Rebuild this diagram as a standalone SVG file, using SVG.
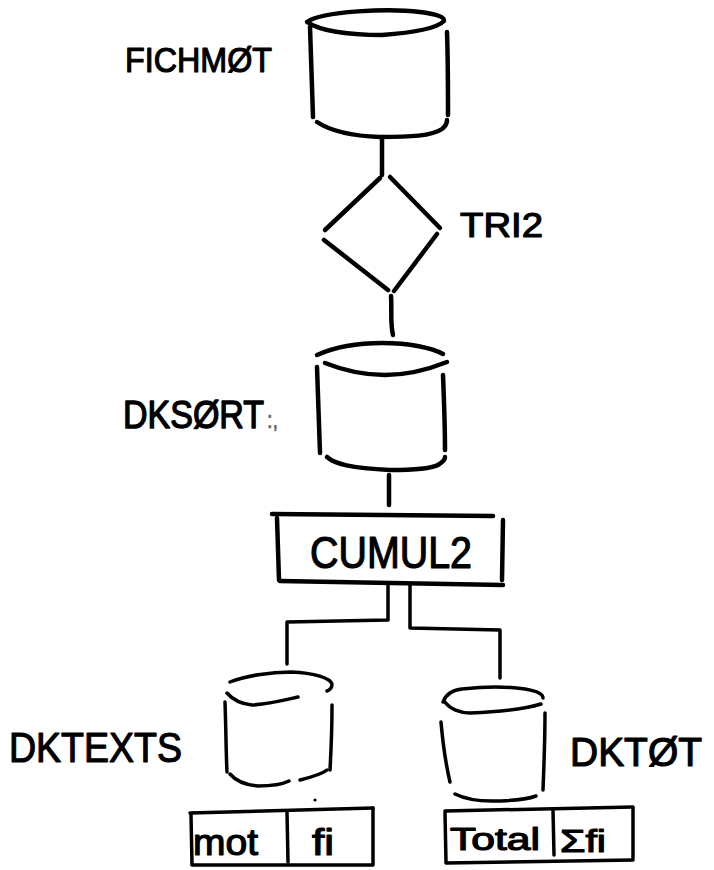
<svg xmlns="http://www.w3.org/2000/svg" width="714" height="870" viewBox="0 0 714 870">
  <style>
    .ink { fill: none; stroke: #000; stroke-width: 4.5; stroke-linecap: round; stroke-linejoin: round; }
    .thin { stroke-width: 3.5; }
    .lbl { font-family: "Liberation Sans", "DejaVu Sans", sans-serif; fill: #000; stroke: #000; stroke-width: 1.2; stroke-linejoin: round; }
    .faint { fill: #666; stroke: #666; stroke-width: 0.6; }
  </style>
  <rect width="714" height="870" fill="#fff"/>

  <!-- input file -->
  <g id="fichmot">
    <path class="ink" d="M307,22 C322,11 390,8 420,12 C436,14 445,17 444,21 C436,29 410,33 382,35 C350,35 320,31 307,22 Z"/>
    <path class="ink" d="M310,27 C311,60 312,90 313,117"/>
    <path class="ink" d="M447,32 C448,60 448,95 448,115"/>
    <path class="ink" d="M317,122 C332,132 352,136 380,137 C410,137 432,136 442,129 C446,126 447,122 447,120"/>
    <text class="lbl" x="125" y="72" font-size="35" textLength="147" lengthAdjust="spacingAndGlyphs">FICHMØT</text>
  </g>

  <!-- sort step -->
  <g id="tri2">
    <path class="ink" d="M380,178 L325,230"/>
    <path class="ink" d="M390,177 L440,228"/>
    <path class="ink" d="M437,234 L394,291"/>
    <path class="ink" d="M324,240 L388,290"/>
    <text class="lbl" x="460" y="237" font-size="35" textLength="83" lengthAdjust="spacingAndGlyphs">TRI2</text>
  </g>

  <!-- sorted file -->
  <g id="dksort">
    <path class="ink" d="M317,355 C335,347 358,343 382,343 C410,343 432,348 443,354"/>
    <path class="ink" d="M325,363 C345,371 365,375 385,375 C410,375 432,368 447,362"/>
    <path class="ink" d="M317,367 C318,400 319,430 320,453"/>
    <path class="ink" d="M443,375 C444,400 445,430 445,450"/>
    <path class="ink" d="M327,457 C335,464 350,468 390,470 C415,470 432,468 438,465 C443,462 445,459 445,457"/>
    <g transform="translate(123,428) scale(1,1.15)">
      <text class="lbl" x="0" y="0" font-size="34">DKSØRT<tspan class="faint" font-size="20" dx="3">:,</tspan></text>
    </g>
  </g>

  <!-- accumulation step -->
  <g id="cumul2">
    <path class="ink" d="M272,514 L493,516"/>
    <path class="ink" d="M277,518 L279,580"/>
    <path class="ink" d="M280,581 L503,585"/>
    <path class="ink" d="M503,520 L502,580"/>
    <text class="lbl" x="310" y="568" font-size="44" textLength="162" lengthAdjust="spacingAndGlyphs">CUMUL2</text>
  </g>

  <!-- text output file -->
  <g id="dktexts">
    <path class="ink thin" d="M230,682 C245,676 270,672 291,672 C315,673 330,678 332,684 C332,688 330,690 327,691"/>
    <path class="ink thin" d="M227,693 C233,700 242,704 252,705 C270,704 285,700 298,697"/>
    <path class="ink thin" d="M225,702 C226,730 226,752 227,772"/>
    <path class="ink thin" d="M332,705 C332,730 331,752 330,770"/>
    <path class="ink thin" d="M230,774 C236,781 245,785 258,786 C272,786 283,784 289,781"/>
    <path class="ink thin" d="M300,780 C312,777 322,774 327,770"/>
    <circle cx="315" cy="800" r="1.6" fill="#000"/>
    <text class="lbl" x="9" y="762" font-size="42" textLength="173" lengthAdjust="spacingAndGlyphs">DKTEXTS</text>
  </g>

  <!-- totals file -->
  <g id="dktot">
    <path class="ink thin" d="M443,702 C446,694 452,690 462,689 C480,687 505,686 525,689 C537,691 543,694 543,698"/>
    <path class="ink thin" d="M445,702 C450,709 460,713 470,713 C495,712 525,709 541,704"/>
    <path class="ink thin" d="M441,722 C443,745 446,765 450,782"/>
    <path class="ink thin" d="M545,713 C545,740 544,765 543,790"/>
    <path class="ink thin" d="M455,794 C465,799 480,801 492,801 C510,801 528,799 536,796"/>
    <text class="lbl" x="570" y="766" font-size="40" textLength="132" lengthAdjust="spacingAndGlyphs">DKTØT</text>
  </g>

  <!-- record layout: word / frequency -->
  <g id="record-texts">
    <path class="ink thin" d="M190,813 L373,808"/>
    <path class="ink thin" d="M191,815 L192,864"/>
    <path class="ink thin" d="M192,865 L373,865"/>
    <path class="ink thin" d="M373,808 L373,864"/>
    <path class="ink thin" d="M287,812 L288,862"/>
    <text class="lbl" x="193" y="855" font-size="36" textLength="65" lengthAdjust="spacingAndGlyphs">mot</text>
    <text class="lbl" x="312" y="855" font-size="36" textLength="22" lengthAdjust="spacingAndGlyphs">fi</text>
  </g>

  <!-- record layout: total / sum of frequencies -->
  <g id="record-tot">
    <path class="ink thin" d="M445,811 L633,807"/>
    <path class="ink thin" d="M445,813 L446,862"/>
    <path class="ink thin" d="M446,863 L633,860"/>
    <path class="ink thin" d="M633,808 L633,858"/>
    <path class="ink thin" d="M553,810 L554,855"/>
    <text class="lbl" x="450" y="850" font-size="31" textLength="90" lengthAdjust="spacingAndGlyphs">Total</text>
    <text class="lbl" x="560" y="852" font-size="32" textLength="46" lengthAdjust="spacingAndGlyphs">Σfi</text>
  </g>

  <!-- flow lines -->
  <g id="connectors">
    <path class="ink" d="M382,137 L382,175"/>
    <path class="ink" d="M391,296 C392,310 390,322 393,335"/>
    <path class="ink" d="M389,475 L389,505"/>
    <path class="ink thin" d="M388,585 L388,620 L287,622 L287,664"/>
    <path class="ink thin" d="M410,585 L410,628 L500,630 L500,678"/>
  </g>
</svg>
